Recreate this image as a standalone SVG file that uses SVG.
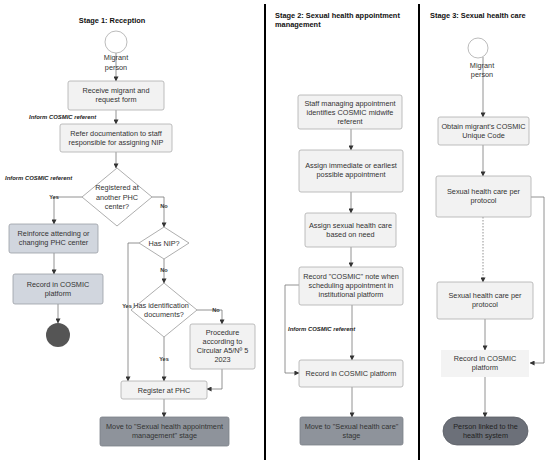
<svg xmlns="http://www.w3.org/2000/svg" width="550" height="462" viewBox="0 0 550 462">
<defs>
<marker id="arr" viewBox="0 0 6 6" refX="5.5" refY="3" markerWidth="5" markerHeight="5" orient="auto" markerUnits="userSpaceOnUse">
<path d="M0,0 L6,3 L0,6 z" fill="#333"/>
</marker>
<style>
text{font-family:"Liberation Sans",Arial,sans-serif;fill:#333;text-anchor:middle}
.t{font-size:7.3px}
.h{font-size:7.4px;font-weight:bold;fill:#111}
.ital{font-size:5.9px;font-weight:bold;font-style:italic;fill:#222;text-anchor:start}
.lab{font-size:5.6px;font-weight:bold;fill:#333}
.lt{fill:#f2f2f2;stroke:#adadad;stroke-width:0.8}
.md{fill:#d1d6de;stroke:#9a9ea5;stroke-width:0.8}
.dk{fill:#8e939b;stroke:#7c8088;stroke-width:0.8}
.c{fill:none;stroke:#777;stroke-width:0.8}
.ca{fill:none;stroke:#777;stroke-width:0.8;marker-end:url(#arr)}
</style>
</defs>
<rect width="550" height="462" fill="#fff"/>
<g id="dividers">
<line x1="265" y1="4" x2="265" y2="460" stroke="#000" stroke-width="2"/>
<line x1="419" y1="4" x2="419" y2="460" stroke="#000" stroke-width="2"/>
</g>
<g id="titles">
<text class="h" x="112" y="23">Stage 1: Reception</text>
<text class="h" x="275" y="18" style="text-anchor:start">Stage 2: Sexual health appointment</text>
<text class="h" x="275" y="27" style="text-anchor:start">management</text>
<text class="h" x="430" y="18" style="text-anchor:start">Stage 3: Sexual health care</text>
</g>
<g id="connectors">
<path class="ca" d="M116,53 V81"/>
<path class="ca" d="M116,110 V124"/>
<path class="ca" d="M116,152 V168"/>
<path class="ca" d="M82,197 H54 V224"/>
<path class="ca" d="M152,197 H164 V227"/>
<path class="ca" d="M54,253 V274"/>
<path class="ca" d="M58,304 V323"/>
<path class="ca" d="M139,243 H128 V381"/>
<path class="ca" d="M164,259 V283"/>
<path class="ca" d="M164,337 V381"/>
<path class="ca" d="M197,310 H222 V324"/>
<path class="ca" d="M222,369 V389 H207"/>
<path class="ca" d="M164,399 V417"/>
<path class="ca" d="M351,129 V150"/>
<path class="ca" d="M351,192 V213"/>
<path class="ca" d="M351,247 V267"/>
<path class="ca" d="M352,305 V360"/>
<path class="ca" d="M299,285 H285 V373 H299"/>
<path class="ca" d="M352,387 V417"/>
<path class="ca" d="M483,57 V117"/>
<path class="ca" d="M483,145 V176"/>
<path class="ca" d="M531,197 H544 V363 H530"/>
<path class="ca" d="M483,217 V282" stroke-dasharray="1.5,1.5"/>
<path class="ca" d="M485,319 V350"/>
<path class="ca" d="M485,377 V417"/>
</g>
<g id="labels">
<text class="ital" x="29" y="119">Inform COSMIC referent</text>
<text class="ital" x="5" y="180">Inform COSMIC referent</text>
<text class="ital" x="288" y="331">Inform COSMIC referent</text>
<text class="lab" x="54" y="199">Yes</text>
<text class="lab" x="164" y="208">No</text>
<text class="lab" x="164" y="272">No</text>
<text class="lab" x="164" y="361">Yes</text>
<text class="lab" x="216" y="312">No</text>
</g>
<g id="s1-start">
<circle cx="116" cy="42" r="11" fill="#fff" stroke="#aaa" stroke-width="0.8"/>
<text class="t" x="116" y="60">Migrant</text>
<text class="t" x="116" y="70">person</text>
</g>
<g id="s1-receive">
<rect class="lt" x="68" y="81" width="96" height="29" rx="2"/>
<text class="t" x="116" y="93">Receive migrant and</text>
<text class="t" x="116" y="102">request form</text>
</g>
<g id="s1-refer">
<rect class="lt" x="60" y="124" width="112" height="28" rx="2"/>
<text class="t" x="116" y="136">Refer documentation to staff</text>
<text class="t" x="116" y="145">responsible for assigning NIP</text>
</g>
<g id="s1-registered">
<polygon points="117,168 152,197 117,226 82,197" fill="#fff" stroke="#999" stroke-width="0.8"/>
<text class="t" x="117" y="190">Registered at</text>
<text class="t" x="117" y="199.5">another PHC</text>
<text class="t" x="117" y="209">center?</text>
</g>
<g id="s1-reinforce">
<rect class="md" x="9" y="224" width="89" height="29" rx="2"/>
<text class="t" x="53.5" y="236">Reinforce attending or</text>
<text class="t" x="53.5" y="245">changing PHC center</text>
</g>
<g id="s1-record">
<rect class="md" x="13" y="274" width="90" height="30" rx="2"/>
<text class="t" x="58" y="287">Record  in COSMIC</text>
<text class="t" x="58" y="296">platform</text>
</g>
<g id="s1-end">
<circle cx="58" cy="335" r="12" fill="#555"/>
</g>
<g id="s1-hasnip">
<polygon points="164,227 189,243 164,259 139,243" fill="#fff" stroke="#999" stroke-width="0.8"/>
<text class="t" x="164" y="245.5">Has NIP?</text>
</g>
<g id="s1-hasid">
<polygon points="164,283 197,310 164,337 131,310" fill="#fff" stroke="#999" stroke-width="0.8"/>
<text class="t" x="161" y="308">Has identification</text>
<text class="t" x="164" y="317">documents?</text>
<text class="lab" x="127" y="308">Yes</text>
</g>
<g id="s1-procedure">
<rect class="lt" x="190" y="324" width="65" height="45" rx="2"/>
<text class="t" x="222.5" y="335">Procedure</text>
<text class="t" x="222.5" y="344">according to</text>
<text class="t" x="222.5" y="353">Circular A5/Nº 5</text>
<text class="t" x="222.5" y="362">2023</text>
</g>
<g id="s1-registerphc">
<rect class="lt" x="121" y="381" width="86" height="18" rx="2"/>
<text class="t" x="164" y="392.5">Register at PHC</text>
</g>
<g id="s1-move">
<rect class="dk" x="100" y="417" width="129" height="29" rx="2"/>
<text class="t" x="164.5" y="428.5">Move to "Sexual health appointment</text>
<text class="t" x="164.5" y="437.5">management" stage</text>
</g>
<g id="s2-staff">
<rect class="lt" x="298" y="95" width="104" height="34" rx="2"/>
<text class="t" x="350" y="105.5">Staff managing appointment</text>
<text class="t" x="350" y="114.5">identifies COSMIC midwife</text>
<text class="t" x="350" y="123.5">referent</text>
</g>
<g id="s2-assign">
<rect class="lt" x="299" y="150" width="104" height="42" rx="2"/>
<text class="t" x="351" y="168">Assign immediate or earliest</text>
<text class="t" x="351" y="177">possible appointment</text>
</g>
<g id="s2-care">
<rect class="lt" x="305" y="213" width="91" height="34" rx="2"/>
<text class="t" x="350.5" y="228">Assign sexual health care</text>
<text class="t" x="350.5" y="237">based on need</text>
</g>
<g id="s2-note">
<rect class="lt" x="299" y="267" width="104" height="38" rx="2"/>
<text class="t" x="351" y="278.5">Record "COSMIC" note when</text>
<text class="t" x="351" y="287.5">scheduling appointment in</text>
<text class="t" x="351" y="296.5">institutional platform</text>
</g>
<g id="s2-record">
<rect class="lt" x="299" y="360" width="104" height="27" rx="2"/>
<text class="t" x="351" y="375.5">Record  in COSMIC platform</text>
</g>
<g id="s2-move">
<rect class="dk" x="300" y="417" width="103" height="28" rx="2"/>
<text class="t" x="351.5" y="428.5">Move to "Sexual health care"</text>
<text class="t" x="351.5" y="437.5">stage</text>
</g>
<g id="s3-start">
<circle cx="478" cy="48" r="10" fill="#fff" stroke="#aaa" stroke-width="0.8"/>
<text class="t" x="482" y="68">Migrant</text>
<text class="t" x="482" y="77">person</text>
</g>
<g id="s3-obtain">
<rect class="lt" x="438" y="117" width="91" height="28" rx="2"/>
<text class="t" x="483.5" y="129">Obtain migrant's COSMIC</text>
<text class="t" x="483.5" y="138">Unique Code</text>
</g>
<g id="s3-care1">
<rect class="lt" x="436" y="176" width="95" height="41" rx="2"/>
<text class="t" x="483.5" y="194">Sexual health care per</text>
<text class="t" x="483.5" y="203">protocol</text>
</g>
<g id="s3-care2">
<rect class="lt" x="437" y="282" width="96" height="37" rx="2"/>
<text class="t" x="485" y="298">Sexual health care per</text>
<text class="t" x="485" y="307">protocol</text>
</g>
<g id="s3-record">
<rect x="441" y="350" width="88" height="27" fill="#f3f3f3"/>
<text class="t" x="485" y="360.5">Record  in COSMIC</text>
<text class="t" x="485" y="369.5">platform</text>
</g>
<g id="s3-end">
<rect x="443" y="417" width="85" height="28" rx="14" fill="#6c7079" stroke="#5a5e66" stroke-width="0.8"/>
<text class="t" x="485.5" y="428.5" style="fill:#222">Person linked to the</text>
<text class="t" x="485.5" y="437.5" style="fill:#222">health system</text>
</g>
</svg>
